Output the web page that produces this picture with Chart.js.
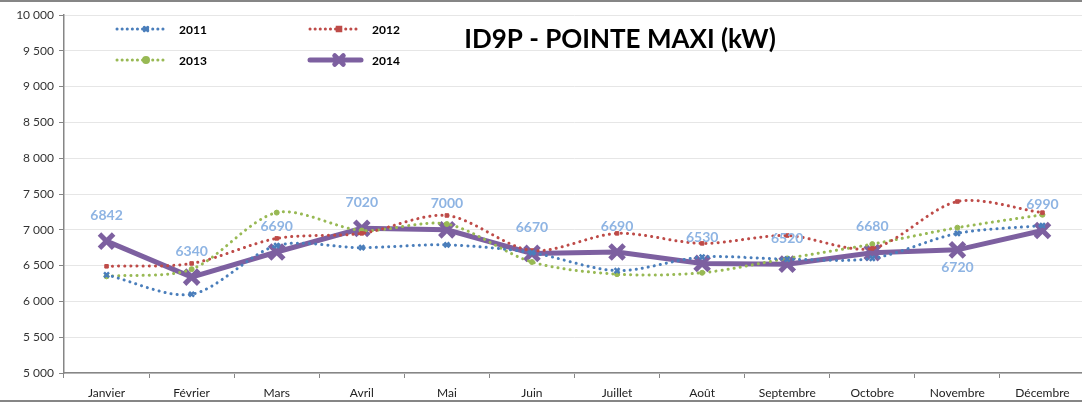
<!DOCTYPE html>
<html>
<head>
<meta charset="utf-8">
<script src="https://cdn.jsdelivr.net/npm/chart.js@4/dist/chart.umd.min.js"></script>
<style>
  html, body { margin: 0; padding: 0; background: #fff; overflow: hidden; }
  #wrap { width: 1100px; height: 405px; position: relative; }
</style>
</head>
<body>
<div id="wrap"><canvas id="chart" width="1100" height="405"></canvas></div>
<script>
// --- data ---
const months = ['Janvier', 'Février', 'Mars', 'Avril', 'Mai', 'Juin', 'Juillet', 'Août', 'Septembre', 'Octobre', 'Novembre', 'Décembre'];
const values2011 = [6370, 6100, 6780, 6750, 6790, 6680, 6430, 6620, 6590, 6600, 6950, 7060];
const values2012 = [6490, 6530, 6880, 6950, 7200, 6710, 6950, 6810, 6920, 6740, 7395, 7240];
const values2013 = [6350, 6450, 7240, 6990, 7080, 6550, 6380, 6400, 6600, 6800, 7030, 7210];
const values2014 = [6842, 6340, 6690, 7020, 7000, 6670, 6690, 6530, 6520, 6680, 6720, 6990];
const yTicks = [5000, 5500, 6000, 6500, 7000, 7500, 8000, 8500, 9000, 9500, 10000];
const chartTitle = 'ID9P - POINTE MAXI (kW)';
const labelsBelow = [10]; // Novembre label sits under the point

const FONT = "Lato, 'Open Sans', sans-serif";
const dotted = [0.1, 6];

const fmt = v => v >= 10000 ? '10 000' : (v >= 1000 ? Math.floor(v / 1000) + ' ' + String(v % 1000).padStart(3, '0') : String(v));

const datasets = [
  { label: '2011', data: values2011, borderColor: '#4A7EBB', backgroundColor: '#4A7EBB',
    borderWidth: 3, borderDash: dotted, borderCapStyle: 'round', tension: 0.3,
    pointStyle: 'crossRot', pointRadius: 3.5, pointBorderWidth: 2.5 },
  { label: '2012', data: values2012, borderColor: '#BE4B48', backgroundColor: '#BE4B48',
    borderWidth: 3, borderDash: dotted, borderCapStyle: 'round', tension: 0.3,
    pointStyle: 'rect', pointRadius: 2.5, pointBorderWidth: 1 },
  { label: '2013', data: values2013, borderColor: '#98B954', backgroundColor: '#98B954',
    borderWidth: 3, borderDash: dotted, borderCapStyle: 'round', tension: 0.3,
    pointStyle: 'circle', pointRadius: 2.5, pointBorderWidth: 1 },
  { label: '2014', data: values2014, borderColor: '#7D60A0', backgroundColor: '#7D60A0',
    borderWidth: 5, tension: 0,
    pointStyle: 'crossRot', pointRadius: 10, pointBorderWidth: 5 }
];

const decorations = {
  id: 'decorations',
  afterDraw(chart) {
    const { ctx } = chart;
    ctx.save();
    // frame lines
    ctx.strokeStyle = '#868686';
    ctx.lineWidth = 2;
    ctx.beginPath();
    ctx.moveTo(0, 1); ctx.lineTo(chart.width, 1);
    ctx.moveTo(0, 401); ctx.lineTo(chart.width, 401);
    ctx.stroke();

    // title
    ctx.font = `bold 26px ${FONT}`;
    ctx.fillStyle = '#000';
    ctx.textAlign = 'center';
    ctx.textBaseline = 'middle';
    ctx.fillText(chartTitle, 620, 40);

    // legend
    const slots = [[117, 29], [310, 29], [117, 60], [310, 60]];
    chart.data.datasets.forEach((ds, i) => {
      const [lx, ly] = slots[i];
      ctx.strokeStyle = ds.borderColor;
      ctx.lineWidth = ds.borderWidth;
      ctx.lineCap = 'round';
      ctx.setLineDash(ds.borderDash ? [0.1, 5] : []);
      ctx.beginPath();
      ctx.moveTo(lx, ly); ctx.lineTo(lx + 51, ly);
      ctx.stroke();
      ctx.setLineDash([]);
      Chart.helpers.drawPoint(ctx, {
        pointStyle: ds.pointStyle,
        radius: i === 3 ? 6 : 2.5,
        borderWidth: i === 3 ? 4 : 2
      }, lx + 29, ly);
      ctx.fillStyle = ds.borderColor;
      ctx.fill();
      ctx.font = `bold 12px ${FONT}`;
      ctx.fillStyle = '#000';
      ctx.textAlign = 'left';
      ctx.fillText(ds.label, lx + 62, ly + 1);
    });

    // data labels for 2014
    const meta = chart.getDatasetMeta(3);
    ctx.font = `bold 14px ${FONT}`;
    ctx.fillStyle = '#8EB4E3';
    ctx.textAlign = 'center';
    meta.data.forEach((pt, i) => {
      const dy = labelsBelow.includes(i) ? 18 : -26;
      ctx.fillText(String(values2014[i]), pt.x, pt.y + dy);
    });
    ctx.restore();
  }
};

new Chart(document.getElementById('chart'), {
  type: 'line',
  data: { labels: months, datasets },
  options: {
    responsive: false,
    animation: false,
    devicePixelRatio: 1,
    layout: { padding: { top: 14, bottom: 4, left: 0, right: 8 } },
    plugins: { legend: { display: false }, tooltip: { enabled: false } },
    scales: {
      x: {
        offset: true,
        grid: { offset: true, drawOnChartArea: false, tickLength: 5, tickColor: '#868686' },
        border: { color: '#868686', width: 1.5 },
        ticks: { color: '#222', font: { family: FONT, size: 12 }, padding: 8, maxRotation: 0, autoSkip: false },
        afterFit(scale) { scale.height = 28; }
      },
      y: {
        min: 5000, max: 10000,
        afterBuildTicks(scale) { scale.ticks = yTicks.map(v => ({ value: v })); },
        grid: { color: '#E6E6E6', tickLength: 5, tickColor: '#868686' },
        border: { color: '#868686', width: 1.5 },
        ticks: { color: '#333', font: { family: FONT, size: 12 }, padding: 5, callback: v => fmt(v) },
        afterFit(scale) { scale.width = 64; }
      }
    }
  },
  plugins: [decorations]
});
</script>
</body>
</html>
